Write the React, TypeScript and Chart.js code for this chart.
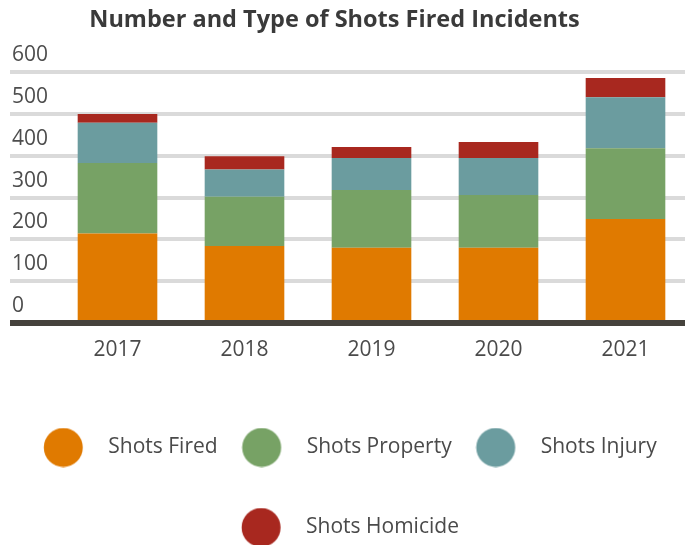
import React, { useEffect, useRef } from "react";
import { Chart, registerables } from "chart.js";

Chart.register(...registerables);

const years = ["2017", "2018", "2019", "2020", "2021"];
const shotsFired = [214, 184, 180, 180, 249];
const shotsProperty = [169, 118, 138, 126, 169];
const shotsInjury = [96, 65, 77, 89, 122];
const shotsHomicide = [21, 32, 26, 38, 46];

const seriesNames = ["Shots Fired", "Shots Property", "Shots Injury", "Shots Homicide"];
const seriesColors = ["#e07a00", "#77a265", "#6b9c9f", "#a8281f"];

function makeMarker(color: string): HTMLCanvasElement {
  // legend dot (r = 19.5), placed left of the image centre so the label sits further right
  const c = document.createElement("canvas");
  c.width = 90;
  c.height = 40;
  const g = c.getContext("2d")!;
  g.fillStyle = color;
  g.beginPath();
  g.arc(20.25, 20, 19.5, 0, Math.PI * 2);
  g.fill();
  return c;
}

const legendShift = {
  id: "legendShift",
  afterLayout(chart: any) {
    if (chart.legend) {
      chart.legend.left += 33;
      chart.legend.right += 33;
    }
  },
};

export default function App() {
  const ref = useRef<HTMLCanvasElement | null>(null);

  useEffect(() => {
    const canvas = ref.current;
    if (!canvas) return;
    const values = [shotsFired, shotsProperty, shotsInjury, shotsHomicide];
    const markers = seriesColors.map(makeMarker);
    const chart = new Chart(canvas, {
      type: "bar",
      data: {
        labels: years,
        datasets: values.map((v, i) => ({
          label: seriesNames[i],
          data: v,
          backgroundColor: seriesColors[i],
          borderWidth: 0,
          barPercentage: 0.627,
          categoryPercentage: 1,
        })),
      },
      plugins: [legendShift],
      options: {
        responsive: false,
        animation: false,
        devicePixelRatio: 1,
        layout: { padding: { left: -20, right: 0, top: 0, bottom: -3 } },
        scales: {
          x: {
            stacked: true,
            z: 1,
            grid: { display: false, drawTicks: false },
            border: { display: true, color: "#45423c", width: 6 },
            ticks: {
              color: "#4a4a4a",
              padding: 14,
              font: { family: "Open Sans", size: 21 },
            },
            afterFit: (scale: any) => {
              scale.height = 55;
            },
          },
          y: {
            stacked: true,
            min: 0,
            max: 600,
            border: { display: false },
            grid: {
              color: (ctx: any) => (ctx.tick && ctx.tick.value === 0 ? "#45423c" : "#dadada"),
              lineWidth: (ctx: any) => (ctx.tick && ctx.tick.value === 0 ? 6 : 4),
              tickLength: 44,
              drawTicks: true,
            },
            ticks: {
              stepSize: 100,
              mirror: true,
              padding: -42,
              labelOffset: -17,
              color: "#4d4d4d",
              font: { family: "Open Sans", size: 21 },
            },
            afterFit: (scale: any) => {
              scale.width = 74;
            },
          },
        },
        plugins: {
          tooltip: { enabled: false },
          title: {
            display: true,
            text: "Number and Type of Shots Fired Incidents",
            color: "#3a3a3a",
            font: { family: "Open Sans", size: 23.5, weight: "bold" },
            padding: { top: 6, bottom: 38 },
          },
          legend: {
            position: "bottom",
            labels: {
              usePointStyle: true,
              pointStyleWidth: 19.5,
              padding: 59,
              color: "#4a4a4a",
              font: { family: "Open Sans", size: 21 },
              generateLabels: (ch: any) => {
                const items = (Chart.defaults.plugins.legend.labels as any).generateLabels(ch);
                return items.map((it: any) => ({ ...it, pointStyle: markers[it.datasetIndex] }));
              },
            },
          },
        },
      },
    } as any);
    return () => chart.destroy();
  }, []);

  return (
    <div
      style={{
        position: "absolute",
        left: 0,
        top: 0,
        width: 685,
        height: 545,
        overflow: "hidden",
        background: "#ffffff",
      }}
    >
      <canvas ref={ref} width={689} height={545} style={{ width: 689, height: 545, display: "block" }} />
    </div>
  );
}
